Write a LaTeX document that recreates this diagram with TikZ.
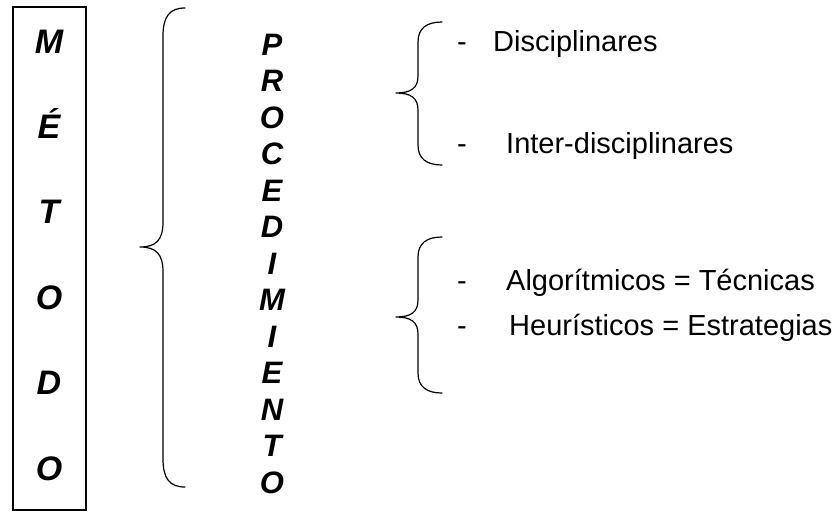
\documentclass[tikz,border=0pt]{standalone}
\usepackage{fontspec}
\setmainfont{Liberation Sans}
\begin{document}
\begin{tikzpicture}[x=1pt,y=-1pt,
  mletter/.style={font=\fontsize{34}{34}\selectfont\bfseries\itshape, inner sep=0pt, anchor=base},
  vletter/.style={font=\fontsize{31}{31}\selectfont\bfseries\itshape, inner sep=0pt, anchor=base},
  item/.style={font=\fontsize{29}{29}\selectfont, inner sep=0pt, anchor=base west},
  dashmark/.style={font=\fontsize{29}{29}\selectfont, inner sep=0pt, anchor=base},
  bracestyle/.style={line width=1.2pt, line cap=round, line join=round}]
\useasboundingbox (0,0) rectangle (838,512);
\draw[line width=1.3pt] (13,7) rectangle (86,510);
% METODO
\foreach \l [count=\i from 0] in {M,É,T,O,D,O}{
  \node[mletter] (m\i) at (49,{53+\i*85.4}) {\l};
}
% PROCEDIMIENTO
\foreach \l [count=\i from 0] in {P,R,O,C,E,D,I,M,I,E,N,T,O}{
  \node[vletter] (p\i) at (272,{55+\i*36.5}) {\l};
}
% big brace
\draw[bracestyle] (185,8) .. controls (170,8) and (163,16) .. (163,36) -- (163,222)
  .. controls (163,240) and (156,247) .. (140,247)
  .. controls (156,247) and (163,254) .. (163,272) -- (163,459)
  .. controls (163,479) and (170,487) .. (185,487);
% top small brace
\draw[bracestyle] (442,22) .. controls (427,22) and (418,28) .. (418,42) -- (418,76)
  .. controls (418,88) and (411,93) .. (396,93)
  .. controls (411,93) and (418,98) .. (418,110) -- (418,145)
  .. controls (418,159) and (427,165) .. (442,165);
% bottom small brace
\draw[bracestyle] (442,237) .. controls (427,237) and (418,243) .. (418,257) -- (418,300)
  .. controls (418,312) and (411,317) .. (396,317)
  .. controls (411,317) and (418,322) .. (418,334) -- (418,373)
  .. controls (418,387) and (427,393) .. (442,393);
% items
\node[dashmark] (d1) at (462,51) {-};
\node[item] (t1) at (493,51) {Disciplinares};
\node[dashmark] (d2) at (462,153) {-};
\node[item] (t2) at (506,153) {Inter-disciplinares};
\node[dashmark] (d3) at (462,290) {-};
\node[item] (t3) at (506,290) {Algorítmicos = Técnicas};
\node[dashmark] (d4) at (462,335) {-};
\node[item] (t4) at (509,335) {Heurísticos = Estrategias};
\end{tikzpicture}
\end{document}
